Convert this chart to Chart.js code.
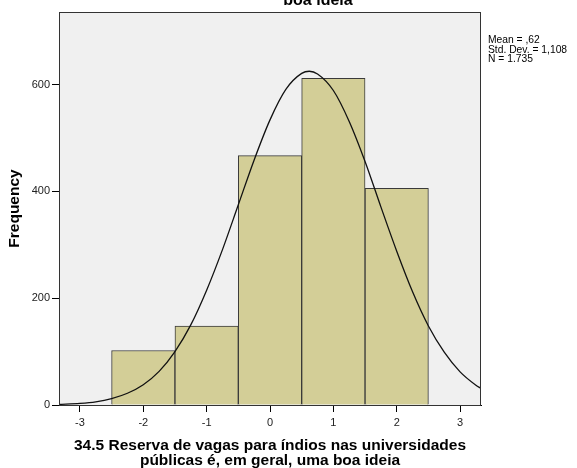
<!DOCTYPE html>
<html>
<head>
<meta charset="utf-8">
<script src="https://cdn.jsdelivr.net/npm/chart.js@4/dist/chart.umd.min.js"></script>
<style>
  html, body { margin: 0; padding: 0; background: #fff; }
  canvas { display: block; }
</style>
</head>
<body>
<canvas id="histChart" width="577" height="468"></canvas>
<script>
// histogram bins (bin centres) and frequencies
const binCenters = [-2, -1, 0, 1, 2];
const binCounts = [102, 148, 467, 612, 406];

// normal curve
const curveX = [-3.33, -3, -2.75, -2.5, -2.25, -2, -1.75, -1.5, -1.25, -1, -0.75, -0.5, -0.25, 0, 0.25, 0.5, 0.62, 0.75, 1, 1.25, 1.5, 1.75, 2, 2.25, 2.5, 2.75, 3, 3.25, 3.33];
const curveY = [1, 3, 6, 12, 22, 38, 63, 100, 150, 215, 291, 375, 459, 534, 591, 621, 625, 620, 589, 531, 456, 371, 288, 212, 148, 99, 62, 37, 31];

// axes
const xTickValues = [-3, -2, -1, 0, 1, 2, 3];
const yTickValues = [0, 200, 400, 600];
const xMin = -3.33;
const xMax = 3.33;
const yMax = 736;

// texts
const titleTail = "boa ideia";
const xTitle = ["34.5 Reserva de vagas para índios nas universidades", "públicas é, em geral, uma boa ideia"];
const yTitle = "Frequency";
const statsLines = ["Mean = ,62", "Std. Dev. = 1,108", "N = 1.735"];

const FONT = "'Liberation Sans', Arial, sans-serif";

// grey plot background, frame, title remainder and stats box
const decor = {
  id: "decor",
  beforeDatasetsDraw(chart) {
    const { ctx, chartArea: a } = chart;
    ctx.save();
    ctx.fillStyle = "#f0f0f0";
    ctx.fillRect(a.left, a.top, a.right - a.left, a.bottom - a.top);
    ctx.restore();
  },
  afterDraw(chart) {
    const { ctx, chartArea: a } = chart;
    ctx.save();
    ctx.strokeStyle = "#333";
    ctx.lineWidth = 1;
    ctx.strokeRect(a.left + 0.5, a.top + 0.5, a.right - a.left - 1, a.bottom - a.top);

    ctx.fillStyle = "#000";
    ctx.font = "bold 16px " + FONT;
    ctx.textAlign = "center";
    ctx.textBaseline = "alphabetic";
    ctx.fillText(titleTail, 318, 5);

    ctx.font = "10.3px " + FONT;
    ctx.textAlign = "left";
    ctx.textBaseline = "middle";
    statsLines.forEach((s, i) => ctx.fillText(s, a.right + 7, 40.5 + i * 9.3));
    ctx.restore();
  }
};

const ctx = document.getElementById("histChart").getContext("2d");
new Chart(ctx, {
  type: "bar",
  data: {
    datasets: [
      {
        type: "line",
        data: curveX.map((x, i) => ({ x: x, y: curveY[i] })),
        borderColor: "#111",
        borderWidth: 1.3,
        pointRadius: 0,
        cubicInterpolationMode: "monotone",
        fill: false,
        order: 0
      },
      {
        type: "bar",
        data: binCenters.map((x, i) => ({ x: x, y: binCounts[i] })),
        backgroundColor: "#d3ce97",
        borderColor: "#3a3a3a",
        borderWidth: 1,
        borderSkipped: "bottom",
        barPercentage: 1,
        categoryPercentage: 1,
        order: 1
      }
    ]
  },
  options: {
    responsive: false,
    animation: false,
    devicePixelRatio: 1,
    layout: { padding: { top: 12, right: 96, left: 0, bottom: 0 } },
    plugins: {
      legend: { display: false },
      tooltip: { enabled: false }
    },
    scales: {
      x: {
        type: "linear",
        min: xMin,
        max: xMax,
        offset: false,
        afterBuildTicks: s => { s.ticks = xTickValues.map(v => ({ value: v })); },
        afterFit: s => { s.height = 63; },
        grid: { drawOnChartArea: false, offset: false, tickLength: 7, color: "#000" },
        border: { display: true, color: "#000" },
        ticks: { color: "#222", font: { family: FONT, size: 11 }, padding: 4, maxRotation: 0 },
        title: {
          display: true,
          text: xTitle,
          color: "#000",
          font: { family: FONT, size: 15.5, weight: "bold", lineHeight: "15px" },
          padding: { top: 0, bottom: 0 }
        }
      },
      y: {
        min: 0,
        max: yMax,
        afterBuildTicks: s => { s.ticks = yTickValues.map(v => ({ value: v })); },
        afterFit: s => { s.width = 59; },
        grid: { drawOnChartArea: false, tickLength: 7, color: "#000" },
        border: { display: true, color: "#000" },
        ticks: { color: "#222", font: { family: FONT, size: 11 }, padding: 2 },
        title: {
          display: true,
          text: yTitle,
          color: "#000",
          font: { family: FONT, size: 15.5, weight: "bold", lineHeight: 1.2 },
          padding: { top: 5.7, bottom: 0 }
        }
      }
    }
  },
  plugins: [decor]
});
</script>
</body>
</html>
